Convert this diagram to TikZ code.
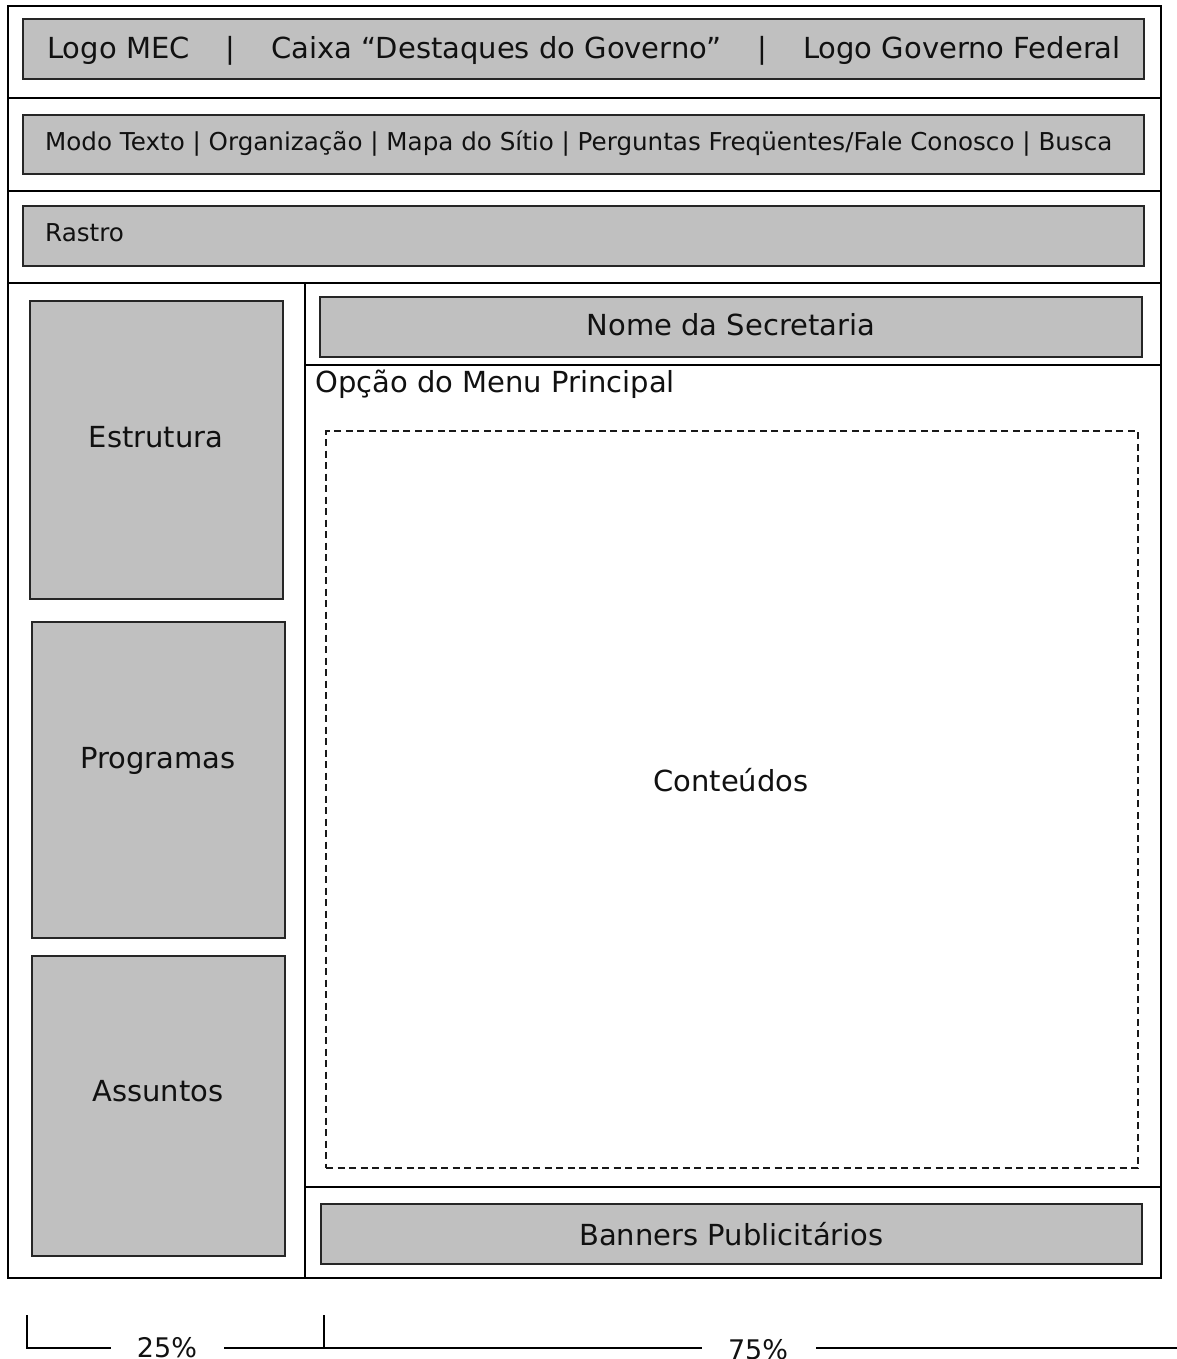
\documentclass[tikz,border=0pt]{standalone}
\usepackage{fontspec}
\setmainfont{DejaVu Sans}
\definecolor{boxgray}{HTML}{C0C0C0}
\definecolor{ink}{HTML}{111111}
\begin{document}
\begin{tikzpicture}[x=1pt,y=-1pt,
  frameline/.style={line width=2.6pt, draw=black},
  graybox/.style={draw=black!85, line width=1.6pt, fill=boxgray, inner sep=0pt, outer sep=0pt, anchor=north west},
  dashbox/.style={draw=black!90, line width=1.5pt, dash pattern=on 7pt off 4.5pt, inner sep=0pt, outer sep=0pt, anchor=north west},
  big/.style={font=\fontsize{29}{34}\selectfont, text=ink, inner sep=0pt, anchor=base},
  small/.style={font=\fontsize{24.6}{29}\selectfont, text=ink, inner sep=0pt, anchor=base west},
  dimtext/.style={font=\fontsize{27}{32}\selectfont, text=ink, inner sep=0pt, anchor=base},
  dimline/.style={line width=2pt, draw=black}]
\useasboundingbox (0,0) rectangle (1177,1359);
\fill[white] (0,0) rectangle (1177,1359);

% page frame and dividers
\draw[frameline] (8,6) rectangle (1161,1278);
\draw[frameline] (8,98) -- (1161,98);
\draw[frameline] (8,191) -- (1161,191);
\draw[frameline] (8,283) -- (1161,283);
\draw[frameline] (305,283) -- (305,1278);
\draw[frameline] (305,365) -- (1161,365);
\draw[frameline] (305,1187) -- (1161,1187);

% gray boxes
\node[graybox, minimum width=1121pt, minimum height=60pt] (logos) at (23,19) {};
\node[graybox, minimum width=1121pt, minimum height=59pt] (nav) at (23,115) {};
\node[graybox, minimum width=1121pt, minimum height=60pt] (rastro) at (23,206) {};
\node[graybox, minimum width=822pt, minimum height=60pt] (nome) at (320,297) {};
\node[graybox, minimum width=253pt, minimum height=298pt] (estrutura) at (30,301) {};
\node[graybox, minimum width=253pt, minimum height=316pt] (programas) at (32,622) {};
\node[graybox, minimum width=253pt, minimum height=300pt] (assuntos) at (32,956) {};
\node[graybox, minimum width=821pt, minimum height=60pt] (banners) at (321,1204) {};
\node[dashbox, minimum width=812pt, minimum height=737pt] (conteudos) at (326,431) {};

% texts
\node[big] (tlogos) at (584,59) {Logo MEC\hspace{36pt}|\hspace{36pt}Caixa “Destaques do Governo”\hspace{36pt}|\hspace{36pt}Logo Governo Federal};
\node[small] (tnav) at (45,151) {Modo Texto | Organização | Mapa do Sítio | Perguntas Freqüentes/Fale Conosco | Busca};
\node[small] (trastro) at (45,241) {Rastro};
\node[big] (tnome) at (731,335) {Nome da Secretaria};
\node[big, anchor=base west] (topcao) at (315,392) {Opção do Menu Principal};
\node[big] (tconteudos) at (731,791) {Conteúdos};
\node[big] (testrutura) at (156,447) {Estrutura};
\node[big] (tprogramas) at (158,768) {Programas};
\node[big] (tassuntos) at (158,1101) {Assuntos};
\node[big] (tbanners) at (731.5,1245) {Banners Publicitários};

% dimension markers
\coordinate (a1) at (27,1315);
\coordinate (a2) at (27,1348);
\coordinate (a3) at (111,1348);
\coordinate (b1) at (224,1348);
\coordinate (b2) at (324,1348);
\coordinate (b3) at (324,1315);
\coordinate (b4) at (702,1348);
\coordinate (c1) at (816,1348);
\coordinate (c2) at (1177,1348);
\draw[dimline] (a1) -- (a2) -- (a3);
\draw[dimline] (b1) -- (b2) -- (b4);
\draw[dimline] (b3) -- (b2);
\draw[dimline] (c1) -- (c2);
\node[dimtext] (p25) at (167,1357) {25\%};
\node[dimtext] (p75) at (758,1359) {75\%};
\end{tikzpicture}
\end{document}
